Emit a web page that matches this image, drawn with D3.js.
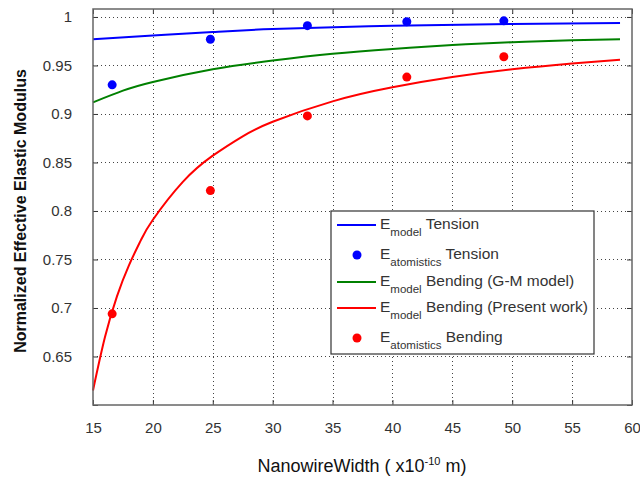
<!DOCTYPE html>
<html lang="en">
<head>
    <meta charset="UTF-8">
    <title>Normalized Effective Elastic Modulus</title>
    <style>
        body { margin: 0; background: #fff; overflow: hidden; }
        text { font-family: "Liberation Sans", Arial, sans-serif; }
    </style>
</head>
<body>
    <script src="https://d3js.org/d3.v7.min.js"></script>
    <script>
        // atomistic simulation points
        const atomWidth = [16.6, 24.8, 32.9, 41.2, 49.3];
        const tensionAtom = [0.930, 0.977, 0.991, 0.995, 0.996];
        const bendingAtom = [0.694, 0.821, 0.898, 0.938, 0.959];

        // model curves
        const tensionX = [15, 20, 25, 30, 40, 50, 59];
        const tensionModel = [0.977, 0.981, 0.9845, 0.9875, 0.991, 0.9928, 0.9938];
        const gmX = [15, 17.5, 20, 25, 30, 35, 40, 45, 50, 55, 59];
        const gmModel = [0.912, 0.924, 0.933, 0.946, 0.955, 0.962, 0.967, 0.971, 0.974, 0.976, 0.977];
        const presentX = [15, 16, 17, 18, 19, 20, 22.5, 25, 27.5, 30, 35, 40, 45, 50, 55, 59];
        const presentModel = [0.615, 0.670, 0.712, 0.744, 0.770, 0.791, 0.830, 0.857, 0.877, 0.892, 0.913, 0.9275, 0.938, 0.946, 0.952, 0.956];

        const xTicks = [15, 20, 25, 30, 35, 40, 45, 50, 55, 60];
        const yTicks = [0.6, 0.65, 0.7, 0.75, 0.8, 0.85, 0.9, 0.95, 1];
        const yTickLabels = ["", "0.65", "0.7", "0.75", "0.8", "0.85", "0.9", "0.95", "1"];

        const width = 640, height = 481;
        const plot = { left: 93, right: 632, top: 9, bottom: 405 };

        const svg = d3.select('body').append('svg')
            .attr('width', width)
            .attr('height', height);

        const x = d3.scaleLinear().domain([15, 60]).range([plot.left, plot.right]);
        const y = d3.scaleLinear().domain([0.6, 1.0082]).range([plot.bottom, plot.top]);

        // dotted grid
        const grid = svg.append('g').attr('stroke', '#444').attr('stroke-width', 1)
            .attr('stroke-dasharray', '1,3');
        grid.selectAll('.vg').data(xTicks.slice(1, -1)).enter().append('line')
            .attr('x1', d => Math.round(x(d)) + 0.5).attr('x2', d => Math.round(x(d)) + 0.5)
            .attr('y1', plot.top).attr('y2', plot.bottom);
        grid.selectAll('.hg').data(yTicks.slice(1)).enter().append('line')
            .attr('y1', d => Math.round(y(d)) + 0.5).attr('y2', d => Math.round(y(d)) + 0.5)
            .attr('x1', plot.left).attr('x2', plot.right);

        // axes with inward ticks, on all four sides
        const axisStyle = g => {
            g.select('.domain').remove();
            g.selectAll('.tick line').attr('stroke', '#333');
            g.selectAll('.tick text').attr('fill', '#333')
                .style('font-size', '15px')
                .style('font-family', '"Liberation Sans", Arial, sans-serif');
        };
        svg.append('g').attr('transform', `translate(0,${plot.bottom})`)
            .call(d3.axisBottom(x).tickValues(xTicks).tickSizeInner(-5).tickSizeOuter(0).tickPadding(17))
            .call(axisStyle);
        svg.append('g').attr('transform', `translate(0,${plot.top})`)
            .call(d3.axisTop(x).tickValues(xTicks).tickSizeInner(-5).tickSizeOuter(0).tickFormat(''))
            .call(axisStyle);
        svg.append('g').attr('transform', `translate(${plot.left},0)`)
            .call(d3.axisLeft(y).tickValues(yTicks).tickSizeInner(-5).tickSizeOuter(0)
                .tickPadding(21).tickFormat((d, i) => yTickLabels[i]))
            .call(axisStyle);
        svg.append('g').attr('transform', `translate(${plot.right},0)`)
            .call(d3.axisRight(y).tickValues(yTicks).tickSizeInner(-5).tickSizeOuter(0).tickFormat(''))
            .call(axisStyle);

        // curves
        const line = d3.line().x(d => x(d[0])).y(d => y(d[1])).curve(d3.curveNatural);
        const curves = [
            { xs: tensionX, ys: tensionModel, color: '#0000ff' },
            { xs: gmX, ys: gmModel, color: '#008000' },
            { xs: presentX, ys: presentModel, color: '#ff0000' }
        ];
        svg.append('g').selectAll('path').data(curves).enter().append('path')
            .attr('d', c => line(d3.zip(c.xs, c.ys)))
            .attr('fill', 'none')
            .attr('stroke', c => c.color)
            .attr('stroke-width', 2);

        // atomistic points
        const dots = [
            { ys: tensionAtom, color: '#0000ff' },
            { ys: bendingAtom, color: '#ff0000' }
        ];
        dots.forEach(s => {
            svg.append('g').selectAll('circle').data(d3.zip(atomWidth, s.ys)).enter().append('circle')
                .attr('cx', d => x(d[0]))
                .attr('cy', d => y(d[1]))
                .attr('r', 4.5)
                .attr('fill', s.color);
        });

        // plot frame
        svg.append('rect')
            .attr('x', plot.left).attr('y', plot.top)
            .attr('width', plot.right - plot.left).attr('height', plot.bottom - plot.top)
            .attr('fill', 'none').attr('stroke', '#666').attr('stroke-width', 1.5);

        // legend
        const legendItems = [
            { sub: 'model', label: ' Tension', color: '#0000ff', type: 'line' },
            { sub: 'atomistics', label: ' Tension', color: '#0000ff', type: 'dot' },
            { sub: 'model', label: ' Bending (G-M model)', color: '#008000', type: 'line' },
            { sub: 'model', label: ' Bending (Present work)', color: '#ff0000', type: 'line' },
            { sub: 'atomistics', label: ' Bending', color: '#ff0000', type: 'dot' }
        ];
        const rowY = [14, 44, 71, 97, 127];
        const legend = svg.append('g').attr('transform', 'translate(331,211)');
        legend.append('rect')
            .attr('width', 263).attr('height', 143)
            .attr('fill', '#fff').attr('stroke', '#333').attr('stroke-width', 1.2);
        const row = legend.selectAll('.row').data(legendItems).enter().append('g')
            .attr('transform', (d, i) => `translate(0,${rowY[i]})`);
        row.filter(d => d.type === 'line').append('line')
            .attr('x1', 6).attr('x2', 45).attr('y1', 0).attr('y2', 0)
            .attr('stroke', d => d.color).attr('stroke-width', 2);
        row.filter(d => d.type === 'dot').append('circle')
            .attr('cx', 26).attr('cy', 0).attr('r', 4.5)
            .attr('fill', d => d.color);
        const lt = row.append('text').attr('x', 49).attr('y', 4)
            .attr('fill', '#333').style('font-size', '15.5px');
        lt.append('tspan').text('E');
        lt.append('tspan').attr('dy', 7).style('font-size', '11.5px').text(d => d.sub);
        lt.append('tspan').attr('dy', -7).text(d => d.label);

        // axis titles
        svg.append('text')
            .attr('transform', 'translate(26,211) rotate(-90)')
            .attr('text-anchor', 'middle')
            .style('font-size', '16px').style('font-weight', 'bold')
            .attr('fill', '#111')
            .text('Normalized Effective Elastic Modulus');
        const xt = svg.append('text')
            .attr('x', 362).attr('y', 472)
            .attr('text-anchor', 'middle')
            .style('font-size', '18px')
            .attr('fill', '#111');
        xt.append('tspan').text('NanowireWidth ( x10');
        xt.append('tspan').attr('dy', -7).style('font-size', '11px').text('-10');
        xt.append('tspan').attr('dy', 7).text(' m)');
    </script>
</body>
</html>
